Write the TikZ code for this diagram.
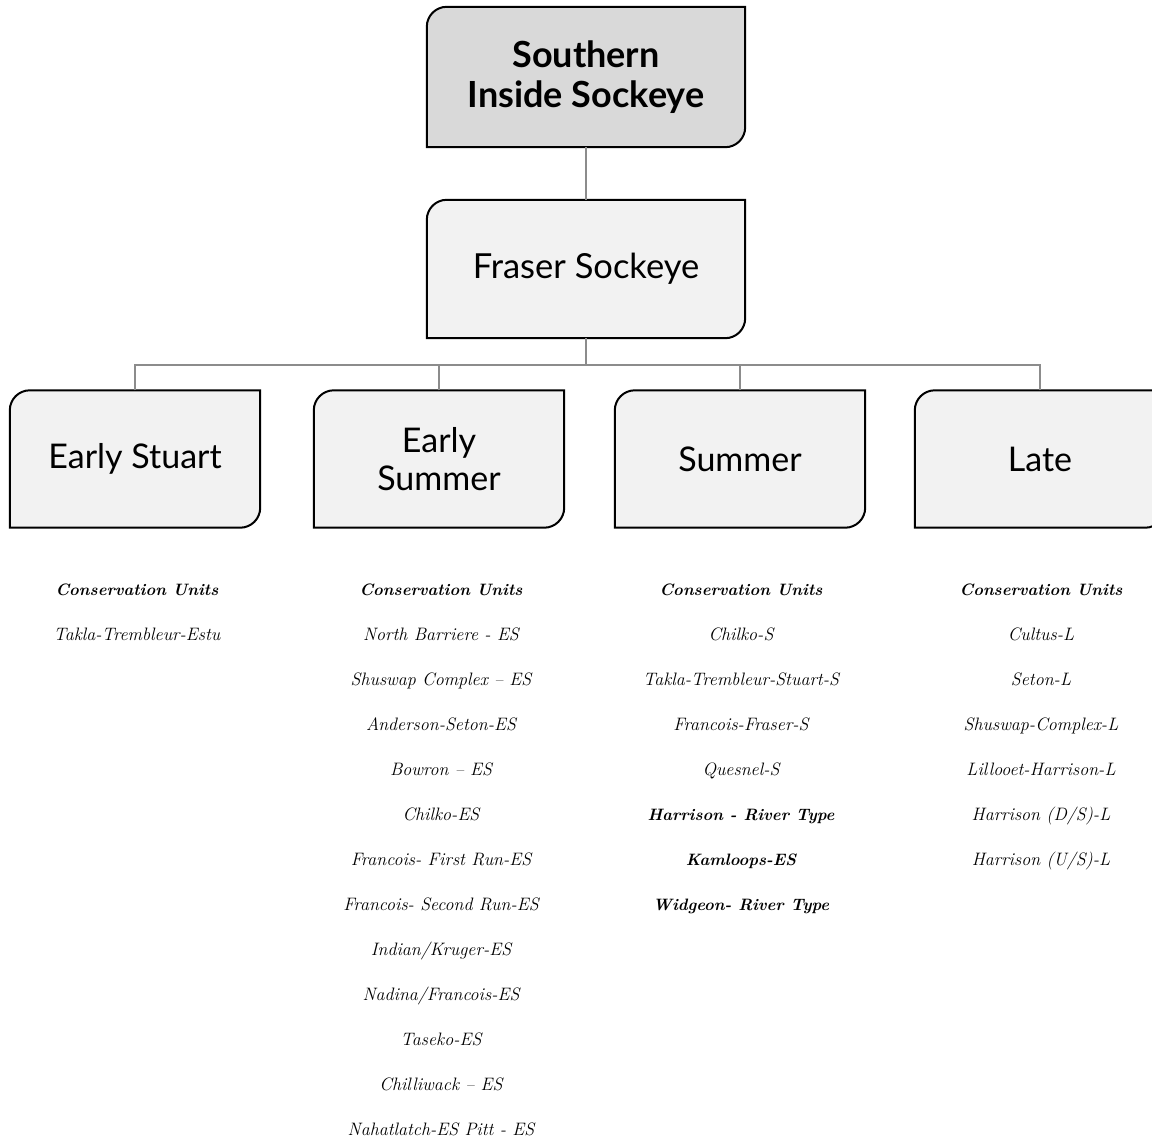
\documentclass[tikz,border=0pt]{standalone}
\usepackage{fontspec}
\setsansfont{Lato}
\usepackage{xcolor}
\usetikzlibrary{backgrounds}

\definecolor{topfill}{HTML}{D9D9D9}
\definecolor{boxfill}{HTML}{F2F2F2}
\definecolor{linkgray}{HTML}{8C8C8C}

% box with the top-left and bottom-right corners rounded
\newcommand{\cornerbox}[2]{%
  \draw[line width=2pt, fill=#2] (#1.north east) -- ([xshift=20pt]#1.north west)
    arc (90:180:20pt) -- (#1.south west) -- ([xshift=-20pt]#1.south east)
    arc (270:360:20pt) -- cycle;}
% bold list entries, a touch smaller than the plain ones
\newcommand{\cubold}[1]{{\bfseries\fontsize{16.5}{45}\selectfont #1}}

\tikzset{
  topbox/.style={minimum width=318pt, minimum height=140pt, inner sep=0pt, align=center,
    font=\sffamily\bfseries\fontsize{36}{40}\selectfont},
  midbox/.style={minimum width=318pt, minimum height=138pt, inner sep=0pt, align=center,
    font=\sffamily\fontsize{34.5}{38}\selectfont},
  groupbox/.style={minimum width=250pt, minimum height=137pt, inner sep=0pt, align=center,
    font=\sffamily\fontsize{34}{38}\selectfont},
  link/.style={draw=linkgray, line width=2.5pt},
  culist/.style={anchor=north, inner sep=0pt, align=center,
    font=\itshape\fontsize{18}{45}\selectfont},
}

\begin{document}
\begin{tikzpicture}[x=1pt, y=1pt]
    \useasboundingbox (0,0) rectangle (1152,-1141);

    \node[topbox] (sis) at (586,-77) {Southern\\Inside Sockeye};
    \node[midbox] (fraser) at (586,-269) {Fraser Sockeye};

    \node[groupbox] (estuart) at (135,-459) {Early Stuart};
    \node[groupbox] (esummer) at (439,-459) {Early\\Summer};
    \node[groupbox] (summer) at (740,-459) {Summer};
    \node[groupbox] (late) at (1040,-459) {Late};

    \begin{scope}[on background layer]
        \cornerbox{sis}{topfill}
        \cornerbox{fraser}{boxfill}
        \foreach \n in {estuart, esummer, summer, late}
            {\cornerbox{\n}{boxfill}}
    \end{scope}

    \coordinate (bus) at (586,-365);
    \draw[link] (sis) -- (fraser);
    \draw[link] (fraser) -- (bus);
    \foreach \n in {estuart, esummer, summer, late}
        \draw[link] (\n.north) |- (bus);

    \node[culist] (cuestuart) at (137,-584) {\cubold{Conservation Units}\\
        Takla-Trembleur-Estu};
    \node[culist] (cuesummer) at (441,-584) {\cubold{Conservation Units}\\
        North Barriere - ES\\ Shuswap Complex -- ES\\ Anderson-Seton-ES\\
        Bowron -- ES\\ Chilko-ES\\ Francois- First Run-ES\\
        Francois- Second Run-ES\\ Indian/Kruger-ES\\ Nadina/Francois-ES\\
        Taseko-ES\\ Chilliwack -- ES\\ Nahatlatch-ES Pitt - ES};
    \node[culist] (cusummer) at (741,-584) {\cubold{Conservation Units}\\
        Chilko-S\\ Takla-Trembleur-Stuart-S\\ Francois-Fraser-S\\ Quesnel-S\\
        \cubold{Harrison - River Type}\\ \cubold{Kamloops-ES}\\
        \cubold{Widgeon- River Type}};
    \node[culist] (culate) at (1041,-584) {\cubold{Conservation Units}\\
        Cultus-L\\ Seton-L\\ Shuswap-Complex-L\\ Lillooet-Harrison-L\\
        Harrison (D/S)-L\\ Harrison (U/S)-L};
\end{tikzpicture}
\end{document}
